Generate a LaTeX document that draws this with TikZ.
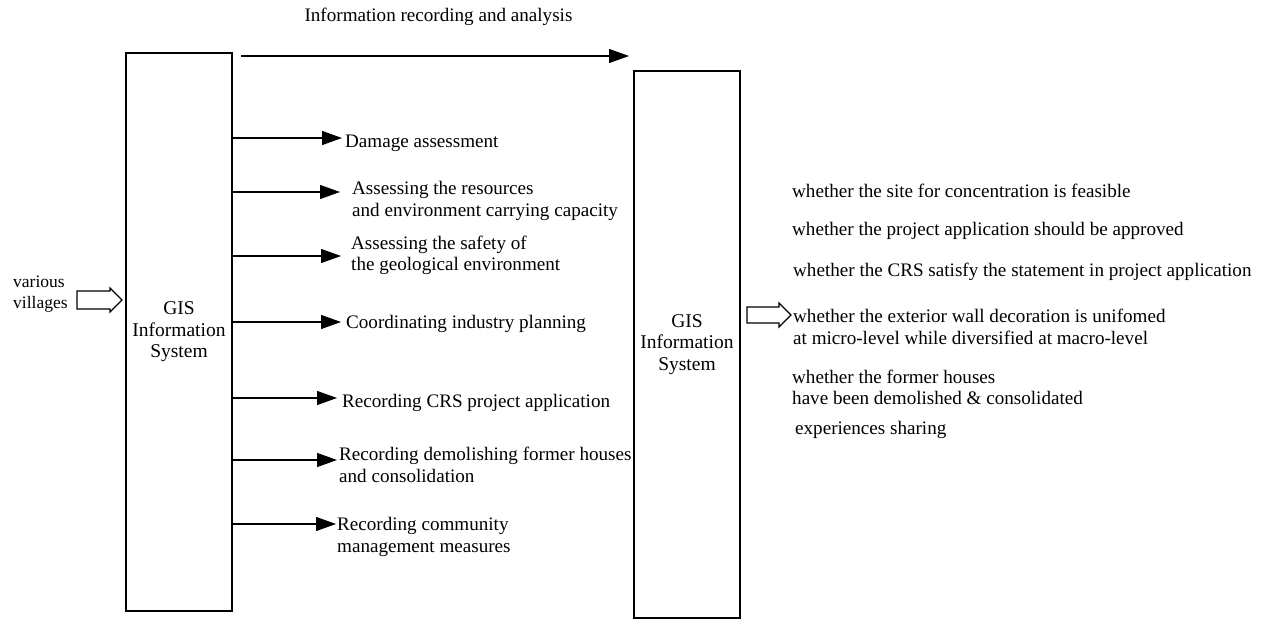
\documentclass[tikz,border=0pt]{standalone}
\usepackage{fontspec}
\setmainfont{Liberation Serif}
\usetikzlibrary{arrows.meta}

\tikzset{
  lbl/.style={inner sep=0pt, anchor=west, align=left,
              font=\fontsize{19.1bp}{21.5bp}\selectfont},
  sysbox/.style={draw, line width=1.2bp, inner sep=0pt, align=center,
                 minimum width=106bp,
                 font=\fontsize{19.5bp}{21.5bp}\selectfont},
  flow/.style={line width=1.2bp, -{Triangle[length=20bp,width=14bp]}},
  blockarrow/.style={draw, line width=1.2bp, fill=white}
}

\begin{document}
\begin{tikzpicture}[x=1bp,y=-1bp]
  \useasboundingbox (0,0) rectangle (1272,619);

  % the two systems
  \node[sysbox, minimum height=558bp] (lbox) at (179,332)
       {GIS\\Information\\System};
  \node[sysbox, minimum height=547bp] (rbox) at (687,344.5)
       {GIS\\Information\\System};

  % heading arrow between the systems
  \node[lbl, anchor=center] (title) at (438.5,17)
       {Information recording and analysis};
  \coordinate (topA) at (241,56);
  \coordinate (topB) at (629,56);
  \draw[flow] (topA) -- (topB);

  % input
  \node[lbl, font=\fontsize{17.5bp}{21.5bp}\selectfont] (vil) at (13,294)
       {various\\villages};
  \draw[blockarrow] (77,291) -- (110,291) -- (110,288) -- (122,300)
        -- (110,312) -- (110,309) -- (77,309) -- cycle;

  % tasks fed by the left system
  \node[lbl] (d1) at (345,143) {Damage assessment};
  \node[lbl] (d2) at (352,201) {Assessing the resources\\and environment carrying capacity};
  \node[lbl] (d3) at (351,255.5) {Assessing the safety of\\the geological environment};
  \node[lbl] (d4) at (346,324) {Coordinating industry planning};
  \node[lbl] (d5) at (342,403) {Recording CRS project application};
  \node[lbl] (d6) at (339,465) {Recording demolishing former houses\\and consolidation};
  \node[lbl] (d7) at (337,537) {Recording community\\management measures};

  \coordinate (t1) at (342,138);
  \coordinate (t2) at (340,192);
  \coordinate (t3) at (341,256);
  \coordinate (t4) at (341,322);
  \coordinate (t5) at (337,398);
  \coordinate (t6) at (337,460);
  \coordinate (t7) at (336,524);
  \foreach \t in {t1,t2,t3,t4,t5,t6,t7}
    \draw[flow] (lbox.east |- \t) -- (\t);

  % output
  \draw[blockarrow] (747,307) -- (779,307) -- (779,303) -- (791,315)
        -- (779,327) -- (779,323) -- (747,323) -- cycle;

  \node[lbl] (r1) at (792,191) {whether the site for concentration is feasible};
  \node[lbl] (r2) at (792,231) {whether the project application should be approved};
  \node[lbl] (r3) at (793,272) {whether the CRS satisfy the statement in project application};
  \node[lbl] (r4) at (793,327) {whether the exterior wall decoration is unifomed\\at micro-level while diversified at macro-level};
  \node[lbl] (r5) at (792,387.5) {whether the former houses\\have been demolished \& consolidated};
  \node[lbl] (r6) at (795,430) {experiences sharing};
\end{tikzpicture}
\end{document}
